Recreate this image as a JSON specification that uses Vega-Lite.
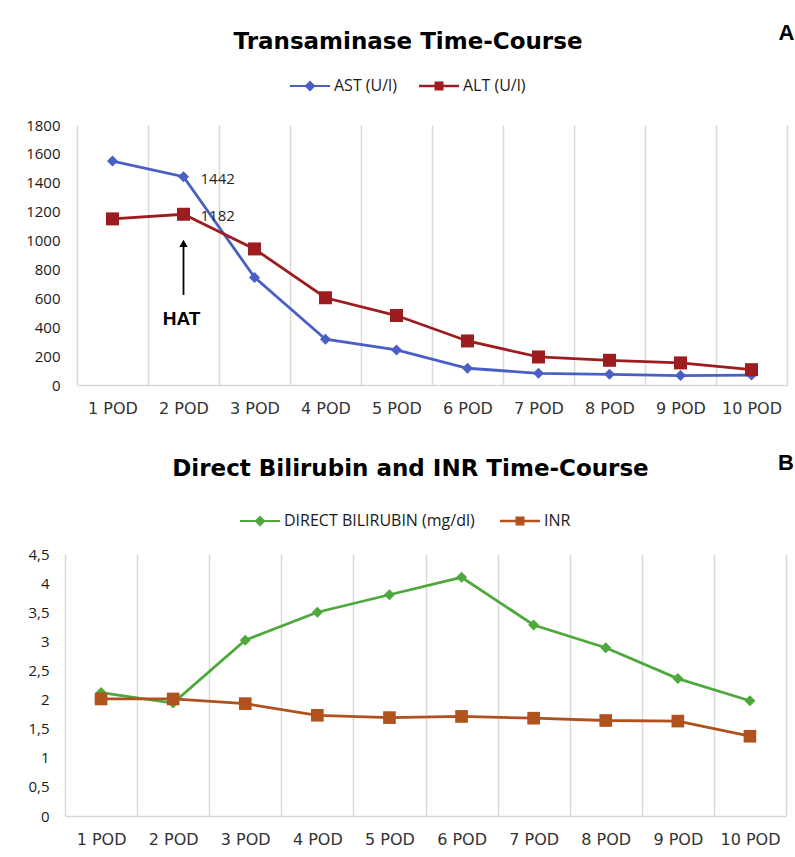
{
  "$schema": "https://vega.github.io/schema/vega-lite/v6.json",
  "background": "white",
  "padding": {"left": 25, "top": 21, "right": 0, "bottom": 5},
  "spacing": 36,
  "config": {
    "view": {"stroke": null},
    "axis": {"labelFont": "Open Sans", "labelColor": "#1a1a1a"},
    "legend": {"labelFont": "Open Sans", "labelFontSize": 16, "labelColor": "#1a1a1a", "padding": 0, "labelLimit": 400}
  },
  "datasets": {
    "transaminase": [
      {"day": "1 POD", "series": "AST (U/l)", "value": 1550},
      {"day": "2 POD", "series": "AST (U/l)", "value": 1442},
      {"day": "3 POD", "series": "AST (U/l)", "value": 745},
      {"day": "4 POD", "series": "AST (U/l)", "value": 317},
      {"day": "5 POD", "series": "AST (U/l)", "value": 243},
      {"day": "6 POD", "series": "AST (U/l)", "value": 116},
      {"day": "7 POD", "series": "AST (U/l)", "value": 81},
      {"day": "8 POD", "series": "AST (U/l)", "value": 74},
      {"day": "9 POD", "series": "AST (U/l)", "value": 65},
      {"day": "10 POD", "series": "AST (U/l)", "value": 69},
      {"day": "1 POD", "series": "ALT (U/l)", "value": 1150},
      {"day": "2 POD", "series": "ALT (U/l)", "value": 1182},
      {"day": "3 POD", "series": "ALT (U/l)", "value": 942},
      {"day": "4 POD", "series": "ALT (U/l)", "value": 604},
      {"day": "5 POD", "series": "ALT (U/l)", "value": 481},
      {"day": "6 POD", "series": "ALT (U/l)", "value": 305},
      {"day": "7 POD", "series": "ALT (U/l)", "value": 194},
      {"day": "8 POD", "series": "ALT (U/l)", "value": 171},
      {"day": "9 POD", "series": "ALT (U/l)", "value": 153},
      {"day": "10 POD", "series": "ALT (U/l)", "value": 106}
    ],
    "liver": [
      {"day": "1 POD", "series": "DIRECT BILIRUBIN (mg/dl)", "value": 2.12},
      {"day": "2 POD", "series": "DIRECT BILIRUBIN (mg/dl)", "value": 1.94},
      {"day": "3 POD", "series": "DIRECT BILIRUBIN (mg/dl)", "value": 3.02},
      {"day": "4 POD", "series": "DIRECT BILIRUBIN (mg/dl)", "value": 3.5},
      {"day": "5 POD", "series": "DIRECT BILIRUBIN (mg/dl)", "value": 3.8},
      {"day": "6 POD", "series": "DIRECT BILIRUBIN (mg/dl)", "value": 4.1},
      {"day": "7 POD", "series": "DIRECT BILIRUBIN (mg/dl)", "value": 3.28},
      {"day": "8 POD", "series": "DIRECT BILIRUBIN (mg/dl)", "value": 2.89},
      {"day": "9 POD", "series": "DIRECT BILIRUBIN (mg/dl)", "value": 2.36},
      {"day": "10 POD", "series": "DIRECT BILIRUBIN (mg/dl)", "value": 1.98},
      {"day": "1 POD", "series": "INR", "value": 2.01},
      {"day": "2 POD", "series": "INR", "value": 2.01},
      {"day": "3 POD", "series": "INR", "value": 1.93},
      {"day": "4 POD", "series": "INR", "value": 1.73},
      {"day": "5 POD", "series": "INR", "value": 1.69},
      {"day": "6 POD", "series": "INR", "value": 1.71},
      {"day": "7 POD", "series": "INR", "value": 1.68},
      {"day": "8 POD", "series": "INR", "value": 1.64},
      {"day": "9 POD", "series": "INR", "value": 1.63},
      {"day": "10 POD", "series": "INR", "value": 1.37}
    ],
    "valueLabels": [
      {"day": "2 POD", "value": 1442, "label": "1442"},
      {"day": "2 POD", "value": 1182, "label": "1182"}
    ],
    "arrow": [{"day": "2 POD", "from": 623, "to": 985}],
    "arrowHead": [{"day": "2 POD", "value": 980}],
    "hat": [{"day": "2 POD", "value": 457, "label": "HAT"}],
    "panelA": [{"day": "10 POD", "value": 2437, "label": "A"}],
    "panelB": [{"day": "10 POD", "value": 6.06, "label": "B"}]
  },
  "vconcat": [
    {
      "width": 722,
      "height": 260,
      "title": {"text": "Transaminase Time-Course", "font": "DejaVu Sans", "fontSize": 23, "fontWeight": "bold", "color": "#000000", "anchor": "middle", "frame": "group", "dy": 36, "dx": -18},
      "encoding": {
        "x": {
          "field": "day", "type": "nominal",
          "scale": {"type": "band", "paddingInner": 0, "paddingOuter": 0, "range": [12, 722], "domain": ["1 POD", "2 POD", "3 POD", "4 POD", "5 POD", "6 POD", "7 POD", "8 POD", "9 POD", "10 POD"]},
          "axis": {"title": null, "labelAngle": 0, "tickBand": "extent", "grid": true, "gridColor": "#d9d9d9", "gridWidth": 1.5, "ticks": false, "domainColor": "#d9d9d9", "domainWidth": 1.5, "labelPadding": 15, "labelFont": "DejaVu Sans", "labelFontSize": 16, "labelColor": "#333333"}
        },
        "y": {
          "field": "value", "type": "quantitative",
          "scale": {"domain": [0, 1800], "nice": false, "zero": true},
          "axis": {"title": null, "format": "d", "values": [0, 200, 400, 600, 800, 1000, 1200, 1400, 1600, 1800], "grid": false, "domain": false, "ticks": false, "labelPadding": 5, "labelFontSize": 15}
        }
      },
      "layer": [
        {
          "data": {"name": "transaminase"},
          "mark": {"type": "line", "strokeWidth": 2.8},
          "encoding": {
            "color": {
              "field": "series", "type": "nominal",
              "scale": {"domain": ["AST (U/l)", "ALT (U/l)"], "range": ["#4a5fc5", "#9c1c1f"]},
              "legend": {
                "title": null, "orient": "none", "direction": "horizontal", "legendX": 225, "legendY": -49,
                "symbolSize": 400, "labelOffset": 24, "columnPadding": 22, "symbolStrokeWidth": 0, "symbolOpacity": 1,
                "symbolType": {"expr": "datum.value == 'ALT (U/l)' ? 'M-1,-0.13H3V0.13H-1Z M0.55,-0.45H1.45V0.45H0.55Z' : 'M-1,-0.11H3V0.11H-1Z M1,-0.55L1.55,0L1,0.55L0.45,0Z'"},
                "symbolFillColor": {"expr": "datum.value == 'ALT (U/l)' ? '#9c1c1f' : '#4a5fc5'"}
              }
            }
          }
        },
        {
          "data": {"name": "transaminase"},
          "transform": [{"filter": "datum.series == 'AST (U/l)'"}],
          "mark": {"type": "point", "filled": true, "opacity": 1, "shape": "diamond", "size": 121, "color": "#4a5fc5"}
        },
        {
          "data": {"name": "transaminase"},
          "transform": [{"filter": "datum.series == 'ALT (U/l)'"}],
          "mark": {"type": "point", "filled": true, "opacity": 1, "shape": "square", "size": 169, "color": "#9c1c1f"}
        },
        {
          "data": {"name": "valueLabels"},
          "mark": {"type": "text", "align": "left", "baseline": "middle", "dx": 17, "dy": 2, "font": "Open Sans", "fontSize": 15, "color": "#262626"},
          "encoding": {"text": {"field": "label"}}
        },
        {
          "data": {"name": "arrow"},
          "mark": {"type": "rule", "strokeWidth": 1.8, "color": "#000000"},
          "encoding": {
            "y": {"field": "from", "type": "quantitative"},
            "y2": {"field": "to"}
          }
        },
        {
          "data": {"name": "arrowHead"},
          "mark": {"type": "point", "shape": "triangle-up", "filled": true, "size": 70, "color": "#000000", "opacity": 1}
        },
        {
          "data": {"name": "hat"},
          "mark": {"type": "text", "align": "center", "baseline": "middle", "font": "Liberation Sans", "fontWeight": "bold", "fontSize": 19, "color": "#000000", "dx": -2},
          "encoding": {"text": {"field": "label"}}
        },
        {
          "data": {"name": "panelA"},
          "mark": {"type": "text", "align": "center", "baseline": "middle", "font": "Liberation Sans", "fontWeight": "bold", "fontSize": 22, "color": "#000000", "dx": 35},
          "encoding": {"text": {"field": "label"}}
        }
      ]
    },
    {
      "width": 721,
      "height": 262,
      "title": {"text": "Direct Bilirubin and INR Time-Course", "font": "DejaVu Sans", "fontSize": 23, "fontWeight": "bold", "color": "#000000", "anchor": "middle", "frame": "group", "dy": 33, "dx": -15},
      "encoding": {
        "x": {
          "field": "day", "type": "nominal",
          "scale": {"type": "band", "paddingInner": 0, "paddingOuter": 0, "domain": ["1 POD", "2 POD", "3 POD", "4 POD", "5 POD", "6 POD", "7 POD", "8 POD", "9 POD", "10 POD"]},
          "axis": {"title": null, "labelAngle": 0, "tickBand": "extent", "grid": true, "gridColor": "#d9d9d9", "gridWidth": 1.5, "ticks": false, "domainColor": "#d9d9d9", "domainWidth": 1.5, "labelPadding": 15, "labelFont": "DejaVu Sans", "labelFontSize": 16, "labelColor": "#333333"}
        },
        "y": {
          "field": "value", "type": "quantitative",
          "scale": {"domain": [0, 4.5], "nice": false, "zero": true},
          "axis": {"title": null, "values": [0, 0.5, 1, 1.5, 2, 2.5, 3, 3.5, 4, 4.5], "labelExpr": "replace(toString(datum.value), '.', ',')", "grid": false, "domain": false, "ticks": false, "labelPadding": 16, "labelFontSize": 15}
        }
      },
      "layer": [
        {
          "data": {"name": "liver"},
          "mark": {"type": "line", "strokeWidth": 2.8},
          "encoding": {
            "color": {
              "field": "series", "type": "nominal",
              "scale": {"domain": ["DIRECT BILIRUBIN (mg/dl)", "INR"], "range": ["#4ea83c", "#b0511e"]},
              "legend": {
                "title": null, "orient": "none", "direction": "horizontal", "legendX": 175, "legendY": -43,
                "symbolSize": 400, "labelOffset": 24, "columnPadding": 25, "symbolStrokeWidth": 0, "symbolOpacity": 1,
                "symbolType": {"expr": "datum.value == 'INR' ? 'M-1,-0.13H3V0.13H-1Z M0.55,-0.45H1.45V0.45H0.55Z' : 'M-1,-0.11H3V0.11H-1Z M1,-0.55L1.55,0L1,0.55L0.45,0Z'"},
                "symbolFillColor": {"expr": "datum.value == 'INR' ? '#b0511e' : '#4ea83c'"}
              }
            }
          }
        },
        {
          "data": {"name": "liver"},
          "transform": [{"filter": "datum.series == 'DIRECT BILIRUBIN (mg/dl)'"}],
          "mark": {"type": "point", "filled": true, "opacity": 1, "shape": "diamond", "size": 121, "color": "#4ea83c"}
        },
        {
          "data": {"name": "liver"},
          "transform": [{"filter": "datum.series == 'INR'"}],
          "mark": {"type": "point", "filled": true, "opacity": 1, "shape": "square", "size": 160, "color": "#b0511e"}
        },
        {
          "data": {"name": "panelB"},
          "mark": {"type": "text", "align": "center", "baseline": "middle", "font": "Liberation Sans", "fontWeight": "bold", "fontSize": 22, "color": "#000000", "dx": 36},
          "encoding": {"text": {"field": "label"}}
        }
      ]
    }
  ],
  "resolve": {"scale": {"color": "independent", "x": "independent", "y": "independent"}}
}
